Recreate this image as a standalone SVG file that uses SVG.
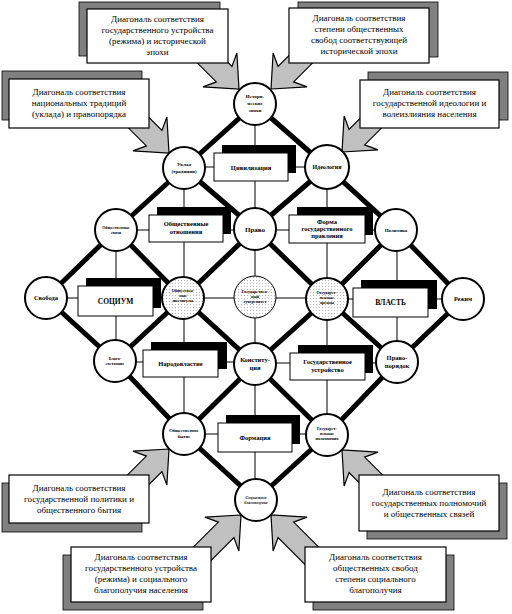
<svg xmlns="http://www.w3.org/2000/svg" width="512" height="614" viewBox="0 0 512 614">
<defs>
<pattern id="dots" width="3" height="3" patternUnits="userSpaceOnUse">
<rect width="3" height="3" fill="#fff"/>
<rect x="1" y="1" width="1" height="1" fill="#b8b8b8"/>
</pattern>
<polygon id="arw" points="0,0 -27,-24 -21,-11 -60,-11 -54,0 -60,11 -21,11 -27,24"/>
</defs>
<style>
.thick{stroke:#000;stroke-width:5;fill:none;stroke-linecap:butt}
.thin{stroke:#000;stroke-width:1;fill:none}
.node{fill:#fff;stroke:#000;stroke-width:2}
.dot{fill:url(#dots);stroke:#000;stroke-width:2}
.box{fill:#fff;stroke:#000;stroke-width:1}
.sh{fill:#000}
.cbox{fill:#fff;stroke:#000;stroke-width:1.2}
.csh{fill:#808080;stroke:#000;stroke-width:0.8}
.arrow{fill:#c0c0c0;stroke:#000;stroke-width:1.2}
text{font-family:"Liberation Serif","Times New Roman",serif;fill:#000;text-anchor:middle}
.ct{font-size:9px}
.bt{font-size:6.5px;font-weight:bold}
.nt{font-size:5px;font-weight:bold}
.big{font-size:7.5px;font-weight:bold}
</style>

<g id="arrows">
<use href="#arw" class="arrow" transform="translate(239,89) rotate(45)"/>
<use href="#arw" class="arrow" transform="translate(271,89) rotate(135)"/>
<use href="#arw" class="arrow" transform="translate(169,153) rotate(45)"/>
<use href="#arw" class="arrow" transform="translate(342,152) rotate(135)"/>
<use href="#arw" class="arrow" transform="translate(169,449) rotate(-45)"/>
<use href="#arw" class="arrow" transform="translate(241,515) rotate(-45)"/>
<use href="#arw" class="arrow" transform="translate(342,450) rotate(-135)"/>
<use href="#arw" class="arrow" transform="translate(271,515) rotate(-135)"/>
</g>

<g id="callouts">
<g id="c1"><rect class="csh" x="79" y="2" width="141" height="54"/><rect class="cbox" x="87" y="9" width="141" height="54"/>
<text class="ct"><tspan x="157.5" y="22">Диагональ соответствия</tspan><tspan x="157.5" y="33">государственного устройства</tspan><tspan x="157.5" y="44">(режима) и исторической</tspan><tspan x="157.5" y="55">эпохи</tspan></text></g>
<g id="c2"><rect class="csh" x="2" y="71" width="140" height="49"/><rect class="cbox" x="9" y="79" width="140" height="49"/>
<text class="ct"><tspan x="79" y="95">Диагональ соответствия</tspan><tspan x="79" y="106">национальных традиций</tspan><tspan x="79" y="117">(уклада) и правопорядка</tspan></text></g>
<g id="c3"><rect class="csh" x="298" y="2" width="140" height="55"/><rect class="cbox" x="289" y="8" width="140" height="55"/>
<text class="ct"><tspan x="359" y="21">Диагональ соответствия</tspan><tspan x="359" y="32">степени общественных</tspan><tspan x="359" y="43">свобод соответствующей</tspan><tspan x="359" y="54">исторической эпохи</tspan></text></g>
<g id="c4"><rect class="csh" x="368" y="72" width="140" height="48"/><rect class="cbox" x="360" y="80" width="139" height="48"/>
<text class="ct"><tspan x="429.5" y="95">Диагональ соответствия</tspan><tspan x="429.5" y="106">государственной идеологии и</tspan><tspan x="429.5" y="117">волеизлияния населения</tspan></text></g>
<g id="c5"><rect class="csh" x="2" y="483" width="140" height="49"/><rect class="cbox" x="9" y="475" width="140" height="48"/>
<text class="ct"><tspan x="79" y="491">Диагональ соответствия</tspan><tspan x="79" y="502">государственной политики и</tspan><tspan x="79" y="513">общественного бытия</tspan></text></g>
<g id="c6"><rect class="csh" x="63" y="555" width="140" height="55"/><rect class="cbox" x="71" y="547" width="140" height="55"/>
<text class="ct"><tspan x="141" y="560">Диагональ соответствия</tspan><tspan x="141" y="571">государственного устройства</tspan><tspan x="141" y="582">(режима) и социального</tspan><tspan x="141" y="593">благополучия населения</tspan></text></g>
<g id="c7"><rect class="csh" x="367" y="483" width="140" height="56"/><rect class="cbox" x="359" y="475" width="140" height="56"/>
<text class="ct"><tspan x="429" y="495">Диагональ соответствия</tspan><tspan x="429" y="506">государственных полномочий</tspan><tspan x="429" y="517">и общественных связей</tspan></text></g>
<g id="c8"><rect class="csh" x="313" y="555" width="141" height="55"/><rect class="cbox" x="305" y="547" width="141" height="55"/>
<text class="ct"><tspan x="375.5" y="560">Диагональ соответствия</tspan><tspan x="375.5" y="571">общественных свобод</tspan><tspan x="375.5" y="582">степени социального</tspan><tspan x="375.5" y="593">благополучия</tspan></text></g>
</g>

<g id="connectors">
<polyline class="thick" points="255,104 184,168 116,230 46,298"/>
<polyline class="thick" points="327,167 255,229 183,298 115,361"/>
<polyline class="thick" points="396,230 327,299 255,364 184,434"/>
<polyline class="thick" points="463,299 397,362 327,435 256,500"/>
<polyline class="thick" points="255,104 327,167 396,230 463,299"/>
<polyline class="thick" points="184,168 255,229 327,299 397,362"/>
<polyline class="thick" points="116,230 183,298 255,364 327,435"/>
<polyline class="thick" points="46,298 115,361 184,434 256,500"/>
<line class="thin" x1="184" y1="167" x2="327" y2="167"/>
<line class="thin" x1="255" y1="104" x2="255" y2="229"/>
<line class="thin" x1="116" y1="230" x2="255" y2="230"/>
<line class="thin" x1="184" y1="168" x2="184" y2="298"/>
<line class="thin" x1="255" y1="230" x2="396" y2="230"/>
<line class="thin" x1="327" y1="167" x2="327" y2="299"/>
<line class="thin" x1="46" y1="298" x2="183" y2="298"/>
<line class="thin" x1="116" y1="230" x2="116" y2="361"/>
<line class="thin" x1="183" y1="298" x2="327" y2="298"/>
<line class="thin" x1="255" y1="229" x2="255" y2="364"/>
<line class="thin" x1="327" y1="299" x2="463" y2="299"/>
<line class="thin" x1="397" y1="230" x2="397" y2="362"/>
<line class="thin" x1="115" y1="362" x2="255" y2="362"/>
<line class="thin" x1="184" y1="298" x2="184" y2="434"/>
<line class="thin" x1="255" y1="363" x2="397" y2="363"/>
<line class="thin" x1="327" y1="299" x2="327" y2="435"/>
<line class="thin" x1="184" y1="434" x2="327" y2="434"/>
<line class="thin" x1="255" y1="364" x2="255" y2="500"/>
</g>

<g id="boxes">
<g id="b-civ"><rect class="sh" x="222" y="145" width="74" height="28"/><rect class="box" x="214" y="153" width="74" height="28"/><text class="bt" x="251" y="169.5">Цивилизация</text></g>
<g id="b-otn"><rect class="sh" x="157" y="207" width="74" height="27"/><rect class="box" x="149" y="215" width="74" height="27"/><text class="bt"><tspan x="186" y="226">Общественные</tspan><tspan x="186" y="234">отношения</tspan></text></g>
<g id="b-forma"><rect class="sh" x="297" y="207" width="76" height="28"/><rect class="box" x="289" y="215" width="76" height="28"/><text class="bt"><tspan x="327" y="224">Форма</tspan><tspan x="327" y="231">государственного</tspan><tspan x="327" y="238">правления</tspan></text></g>
<g id="b-soc"><rect class="sh" x="86" y="278" width="75" height="30"/><rect class="box" x="78" y="286" width="75" height="30"/><text class="big" x="115.5" y="303.5">СОЦИУМ</text></g>
<g id="b-vlast"><rect class="sh" x="361" y="280" width="76" height="29"/><rect class="box" x="353" y="288" width="75" height="29"/><text class="big" x="390.5" y="305">ВЛАСТЬ</text></g>
<g id="b-narod"><rect class="sh" x="151" y="342" width="76" height="27"/><rect class="box" x="143" y="350" width="75" height="27"/><text class="bt" x="180.5" y="366">Народовластие</text></g>
<g id="b-ustr"><rect class="sh" x="298" y="345" width="75" height="28"/><rect class="box" x="290" y="353" width="75" height="27"/><text class="bt"><tspan x="327.5" y="364">Государственное</tspan><tspan x="327.5" y="372">устройство</tspan></text></g>
<g id="b-form"><rect class="sh" x="226" y="415" width="74" height="29"/><rect class="box" x="218" y="423" width="74" height="29"/><text class="bt" x="255" y="440">Формация</text></g>
</g>

<g id="nodes">
<g id="n-ist"><circle class="node" cx="255" cy="104" r="21"/><text class="nt"><tspan x="255" y="98">Истори-</tspan><tspan x="255" y="105">ческие</tspan><tspan x="255" y="112">эпохи</tspan></text></g>
<g id="n-uklad"><circle class="node" cx="184" cy="168" r="21"/><text class="nt"><tspan x="184" y="166">Уклад</tspan><tspan x="184" y="173">(традиции)</tspan></text></g>
<g id="n-ideol"><circle class="node" cx="327" cy="167" r="22"/><text class="nt" style="font-size:6px" x="327" y="169">Идеология</text></g>
<g id="n-svyazi"><circle class="node" cx="116" cy="230" r="21"/><text class="nt" style="font-size:4px"><tspan x="116" y="229">Общественные</tspan><tspan x="116" y="234">связи</tspan></text></g>
<g id="n-pravo"><circle class="node" cx="255" cy="229" r="21"/><text class="big" style="font-size:7px" x="255" y="231.5">Право</text></g>
<g id="n-polit"><circle class="node" cx="396" cy="230" r="21"/><text class="nt" x="396" y="232">Политика</text></g>
<g id="n-svoboda"><circle class="node" cx="46" cy="298" r="21"/><text class="bt" x="46" y="300">Свобода</text></g>
<g id="n-instit"><circle class="dot" cx="183" cy="298" r="21"/><text class="nt" style="font-size:4.2px"><tspan x="183" y="292">Обществен-</tspan><tspan x="183" y="297">ные</tspan><tspan x="183" y="302">институты</tspan></text></g>
<g id="n-suver"><circle class="dot" cx="255" cy="297" r="21" style="stroke-width:1"/><text class="nt" style="font-size:4.2px"><tspan x="255" y="293">Государствен-</tspan><tspan x="255" y="298">ный</tspan><tspan x="255" y="303">суверенитет</tspan></text></g>
<g id="n-organy"><circle class="dot" cx="327" cy="299" r="21"/><text class="nt" style="font-size:4.2px"><tspan x="327" y="294">Государст-</tspan><tspan x="327" y="299">венные</tspan><tspan x="327" y="304">органы</tspan></text></g>
<g id="n-rezhim"><circle class="node" cx="463" cy="299" r="21"/><text class="nt" style="font-size:6px" x="463" y="301">Режим</text></g>
<g id="n-blago"><circle class="node" cx="115" cy="361" r="21"/><text class="nt" style="font-size:4.2px"><tspan x="115" y="360">Благо-</tspan><tspan x="115" y="365">состояние</tspan></text></g>
<g id="n-konst"><circle class="node" cx="255" cy="364" r="21"/><text class="bt"><tspan x="255" y="362">Конститу-</tspan><tspan x="255" y="370">ция</tspan></text></g>
<g id="n-poryadok"><circle class="node" cx="397" cy="362" r="21"/><text class="bt"><tspan x="397" y="360">Право-</tspan><tspan x="397" y="368">порядок</tspan></text></g>
<g id="n-bytie"><circle class="node" cx="184" cy="434" r="21"/><text class="nt" style="font-size:4.5px"><tspan x="184" y="432">Общественное</tspan><tspan x="184" y="438">бытие</tspan></text></g>
<g id="n-polnom"><circle class="node" cx="327" cy="435" r="21"/><text class="nt" style="font-size:4.2px"><tspan x="327" y="430">Государст-</tspan><tspan x="327" y="435">венные</tspan><tspan x="327" y="440">полномочия</tspan></text></g>
<g id="n-socblag"><circle class="node" cx="256" cy="500" r="21"/><text class="nt" style="font-size:4px;font-style:italic"><tspan x="256" y="499">Социальное</tspan><tspan x="256" y="504">благополучие</tspan></text></g>
</g>
</svg>
